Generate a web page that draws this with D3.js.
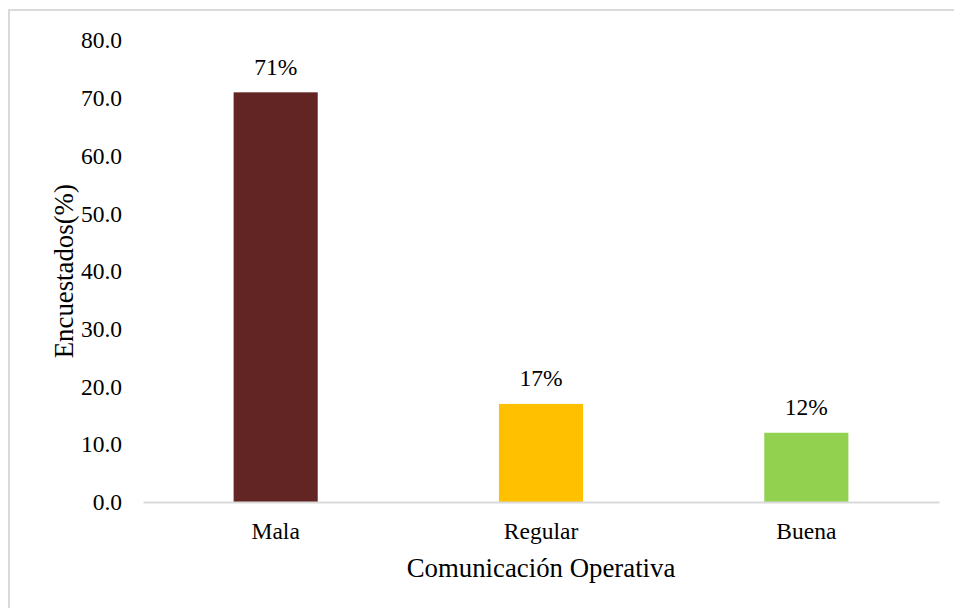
<!DOCTYPE html>
<html>
<head>
<meta charset="utf-8">
<script src="https://cdn.jsdelivr.net/npm/d3@7"></script>
<style>
  html, body { margin: 0; padding: 0; background: #fff; }
  svg { display: block; }
</style>
</head>
<body>
<svg id="chart" width="954" height="608"></svg>
<script>
// Survey results: operational communication rating
const categories = ["Mala", "Regular", "Buena"];
const values = [71, 17, 12];
const valueLabels = ["71%", "17%", "12%"];
const barColors = ["#632523", "#FFC000", "#92D050"];
const yTicks = [0, 10, 20, 30, 40, 50, 60, 70, 80];
const xTitle = "Comunicación Operativa";
const yTitle = "Encuestados(%)";

const FONT = "Liberation Serif";
const svg = d3.select("#chart");
const W = 954, H = 608;
const plot = { left: 143, right: 939, top: 40.4, bottom: 502 };

function serif(sel, size) {
  return sel.style("font-family", FONT).style("font-size", (size || 23.5) + "px").attr("fill", "#000");
}

// outer frame
svg.append("rect")
  .attr("x", 9).attr("y", 10)
  .attr("width", W + 10).attr("height", H + 10)
  .attr("fill", "#fff")
  .attr("stroke", "#d9d9d9").attr("stroke-width", 2);

const x = d3.scaleBand()
  .domain(categories)
  .range([plot.left, plot.right])
  .paddingInner(0.683)
  .paddingOuter(0.3415);

const y = d3.scaleLinear()
  .domain([0, 80])
  .range([plot.bottom, plot.top]);

// y axis: labels only
const yAxis = d3.axisLeft(y)
  .tickValues(yTicks)
  .tickFormat(d3.format(".1f"))
  .tickSize(0)
  .tickPadding(21);
const yg = svg.append("g").attr("transform", `translate(${plot.left},0)`).call(yAxis);
yg.select(".domain").remove();
serif(yg.selectAll("text"));

// bars
svg.append("g").selectAll("rect")
  .data(values)
  .join("rect")
  .attr("x", (d, i) => x(categories[i]))
  .attr("y", d => y(d))
  .attr("width", x.bandwidth())
  .attr("height", d => y(0) - y(d))
  .attr("fill", (d, i) => barColors[i]);

// x axis line and category labels
const xAxis = d3.axisBottom(x).tickSize(0).tickPadding(20);
const xg = svg.append("g").attr("transform", `translate(0,${plot.bottom})`).call(xAxis);
xg.select(".domain")
  .attr("stroke", "#d9d9d9")
  .attr("stroke-width", 2);
serif(xg.selectAll("text"));

// value labels
serif(svg.append("g").selectAll("text")
  .data(values)
  .join("text")
  .attr("x", (d, i) => x(categories[i]) + x.bandwidth() / 2)
  .attr("y", d => y(d) - 17.5)
  .attr("text-anchor", "middle")
  .text((d, i) => valueLabels[i]));

// axis titles
serif(svg.append("text")
  .attr("x", (plot.left + plot.right) / 2)
  .attr("y", 576.5)
  .attr("text-anchor", "middle")
  .text(xTitle), 26.8);

serif(svg.append("text")
  .attr("transform", `translate(73,${(plot.top + plot.bottom) / 2}) rotate(-90)`)
  .attr("text-anchor", "middle")
  .text(yTitle), 26.8);
</script>
</body>
</html>
